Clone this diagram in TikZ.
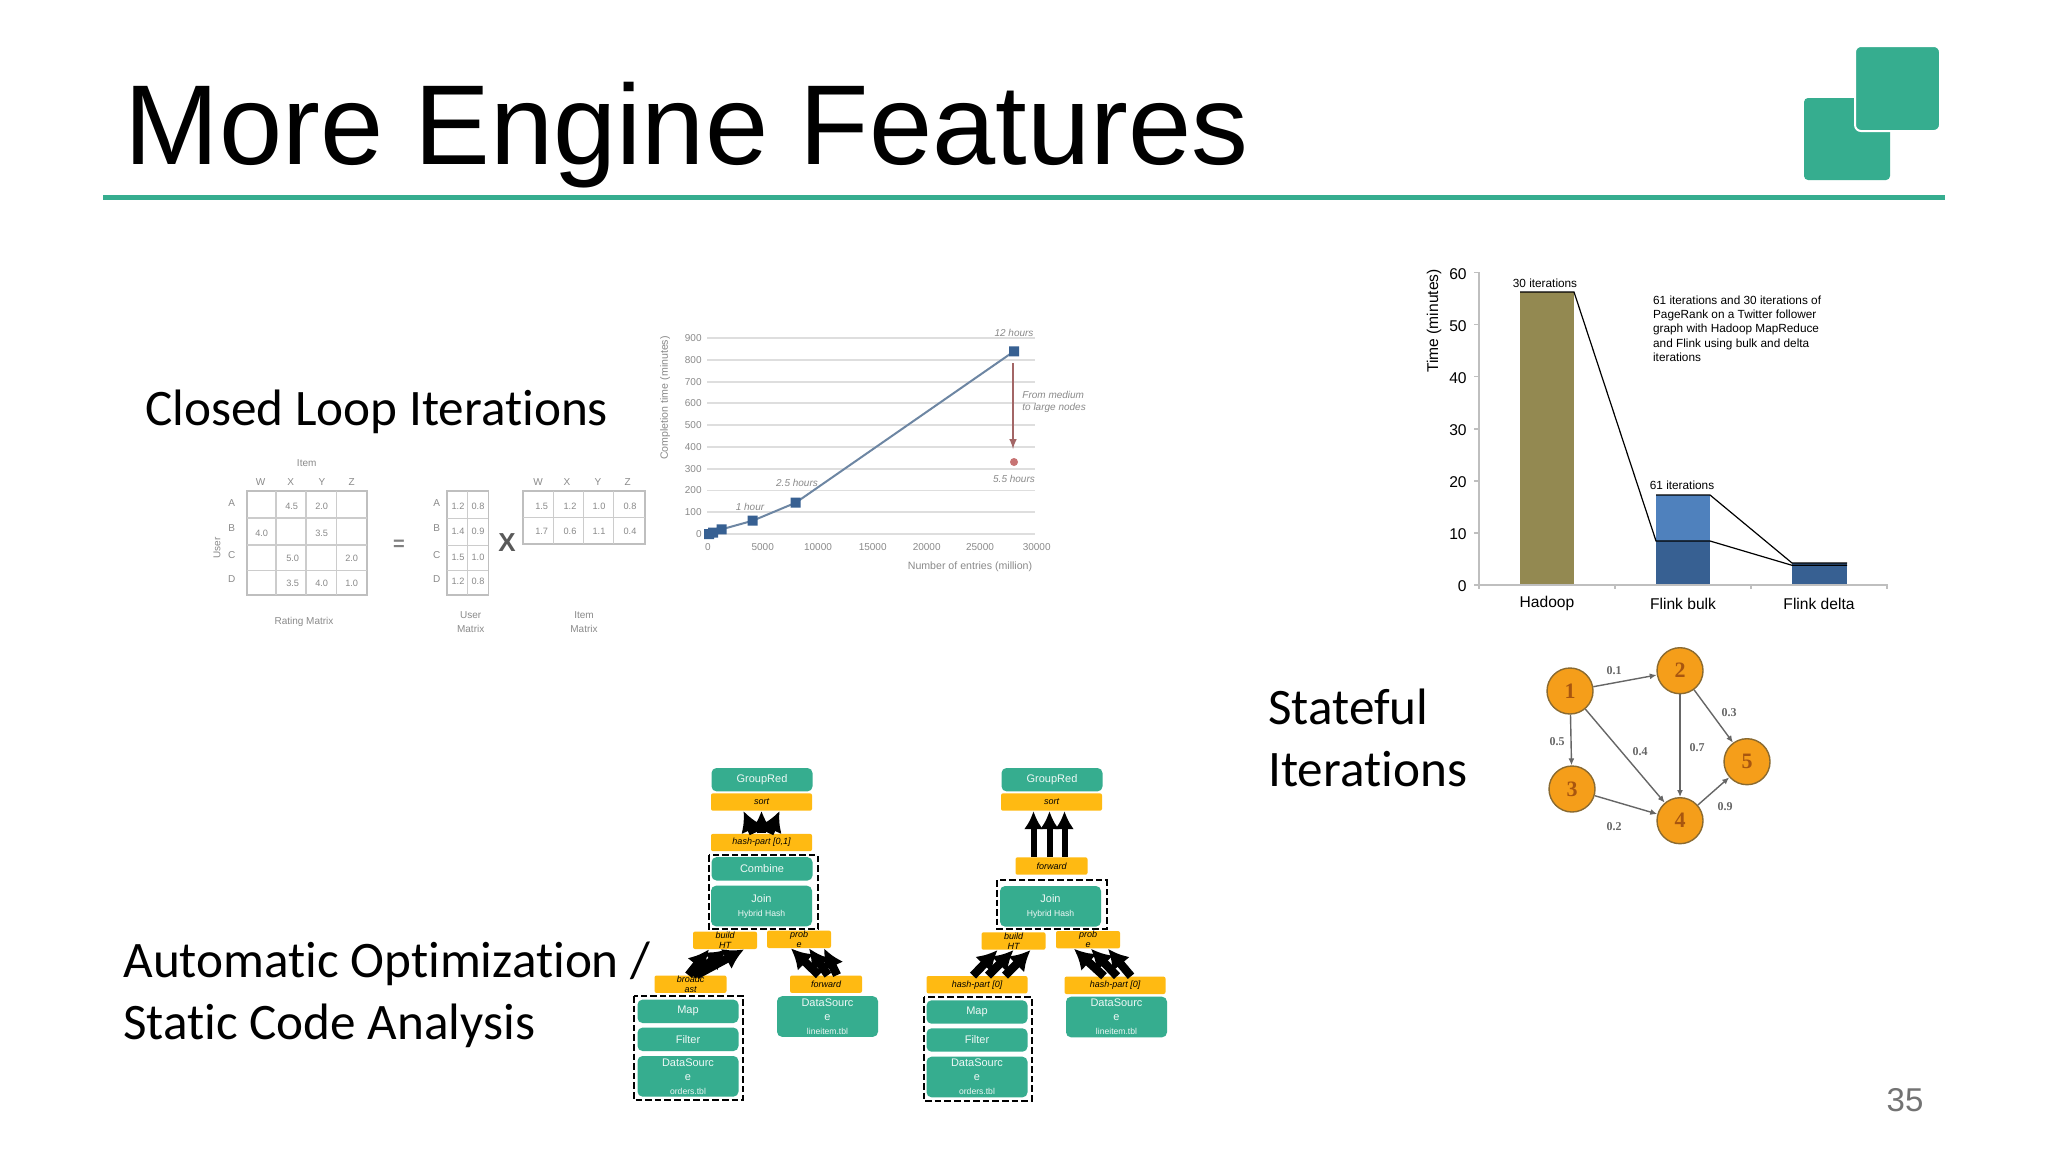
\documentclass[tikz,border=0pt]{standalone}
\usepackage{fontspec}
\setmainfont{Liberation Sans}
\newfontfamily\bodyfont[Ligatures=NoCommon]{Carlito}
\newfontfamily\graphfont{Liberation Serif}
\usetikzlibrary{arrows.meta}
\definecolor{flinkgreen}{HTML}{36AD8F}
\definecolor{shiporange}{HTML}{FFBA12}
\definecolor{olivebar}{HTML}{938951}
\definecolor{lightbar}{HTML}{4F81BD}
\definecolor{darkbar}{HTML}{376092}
\definecolor{vertexfill}{HTML}{F59E1A}
\definecolor{vertexline}{HTML}{8A6A30}
\definecolor{vertextext}{HTML}{A8560F}
\definecolor{faded}{HTML}{8A8A8A}
\tikzset{>=latex}
\tikzset{
  headline/.style = {anchor=base west,inner sep=0pt,font=\fontsize{56.8}{60}\selectfont},
  bodytext/.style = {anchor=base west,inner sep=0pt,font=\bodyfont\fontsize{25.6}{30}\selectfont},
  op/.style = {fill=flinkgreen,text=white!92!flinkgreen,rounded corners=2.5pt,minimum width=50.5pt,
    inner sep=0pt,align=center,font=\fontsize{5.5}{7}\selectfont},
  opsmall/.style = {op,minimum height=11.7pt},
  optall/.style = {op,minimum height=20.3pt},
  ship/.style = {fill=shiporange,text=black,rounded corners=1pt,minimum width=50.5pt,minimum height=8.7pt,
    inner sep=0pt,align=center,font=\itshape\fontsize{4.5}{5}\selectfont},
  shipshort/.style = {ship,minimum width=36pt},
  shipnarrow/.style = {ship,minimum width=32pt},
  flow/.style = {-{Latex[length=9pt,width=9.5pt]},line width=3pt,black},
  flowfat/.style = {-{Latex[length=10pt,width=11.5pt]},line width=4.2pt,black},
  chain/.style = {draw=black,line width=1pt,dash pattern=on 3.3pt off 1.5pt},
  faint/.style = {text=faded,inner sep=0pt,font=\fontsize{5}{6}\selectfont},
  faintit/.style = {faint,font=\itshape\fontsize{5}{6}\selectfont},
  cell/.style = {faint,font=\fontsize{4.6}{6}\selectfont},
  tick/.style = {inner sep=0pt,font=\fontsize{7.8}{9}\selectfont},
  small/.style = {inner sep=0pt,font=\fontsize{5.9}{7.1}\selectfont},
  vertex/.style = {circle,draw=vertexline,fill=vertexfill,line width=0.7pt,minimum size=23pt,inner sep=0pt,
    text=vertextext,font=\graphfont\bfseries\fontsize{11}{12}\selectfont},
  edge/.style = {->,draw=black!60,line width=0.7pt,>={Latex[length=3.5pt,width=3pt]}},
  weight/.style = {inner sep=0pt,text=black!60,font=\graphfont\bfseries\fontsize{6}{7}\selectfont}
}
\newcommand{\subtxt}[1]{{\fontsize{4.3}{5}\selectfont #1}}

\begin{document}
\begin{tikzpicture}[x=0.5pt,y=-0.5pt]
  \useasboundingbox (0,0) rectangle (2048,1152);
  \fill[white] (0,0) rectangle (2048,1152);
  % title
  \node[headline] (title) at (124,164) {More Engine Features};
  \draw[flinkgreen,line width=2.5pt] (103,197) -- (1945,197);
  \fill[flinkgreen,rounded corners=2pt] (1804,98) rectangle (1890,180);
  \filldraw[fill=flinkgreen,draw=white,line width=1pt,rounded corners=3pt] (1855,46) rectangle (1940,131);
  \node[text=black!55,inner sep=0pt,font=\fontsize{16.5}{18}\selectfont] (pageno) at (1905,1100) {35};
  % feature names
  \node[bodytext] (closed) at (145,425) {Closed Loop Iterations};
  \node[bodytext] (stateA) at (1268,724.5) {Stateful};
  \node[bodytext] (stateB) at (1268,786.5) {Iterations};
  \node[bodytext] (autoA) at (123,977.5) {Automatic Optimization /};
  \node[bodytext] (autoB) at (123,1039) {Static Code Analysis};

  % rating matrix
  \draw[black!25,line width=0.8pt] (246.7,491) rectangle (366.7,594.7);
  \draw[black!20,line width=0.6pt] (276,491) -- (276,594.7) (306,491) -- (306,594.7) (336.7,491) -- (336.7,594.7)
    (246.7,518) -- (366.7,518) (246.7,545) -- (366.7,545) (246.7,570.7) -- (366.7,570.7);
  \node[faint] (itemA) at (306.7,462.7) {Item};
  \node[faint] (colW) at (260.7,481.7) {W};
  \node[faint] (colX) at (290.7,481.7) {X};
  \node[faint] (colY) at (322,481.7) {Y};
  \node[faint] (colZ) at (351.7,481.7) {Z};
  \node[faint] (rowA) at (231.7,503) {A};
  \node[faint] (rowB) at (231.7,528) {B};
  \node[faint] (rowC) at (231.7,555) {C};
  \node[faint] (rowD) at (231.7,579) {D};
  \node[faint,rotate=90] (userA) at (217,548) {User};
  \node[cell] (r1) at (291.7,506.7) {4.5};
  \node[cell] (r2) at (321.7,506.7) {2.0};
  \node[cell] (r3) at (261.7,533) {4.0};
  \node[cell] (r4) at (321.7,533) {3.5};
  \node[cell] (r5) at (292.7,558) {5.0};
  \node[cell] (r6) at (351.7,558) {2.0};
  \node[cell] (r7) at (292.7,583) {3.5};
  \node[cell] (r8) at (321.7,583) {4.0};
  \node[cell] (r9) at (351.7,583) {1.0};
  \node[faint] (rating) at (304,621.7) {Rating Matrix};
  \node[text=black!50,inner sep=0pt,font=\bfseries\fontsize{10}{12}\selectfont] (equals) at (399,545) {=};
  % user matrix
  \draw[black!25,line width=0.8pt] (447,491) rectangle (488.3,594.7);
  \draw[black!20,line width=0.5pt] (467.7,491) -- (467.7,594.7) (447,518) -- (488.3,518) (447,545) -- (488.3,545) (447,570.7) -- (488.3,570.7);
  \node[faint] (rowAu) at (436.7,503) {A};
  \node[faint] (rowBu) at (436.7,528) {B};
  \node[faint] (rowCu) at (436.7,555) {C};
  \node[faint] (rowDu) at (436.7,579) {D};
  \node[cell] (u1) at (458,506.7) {1.2};
  \node[cell] (u2) at (478,506.7) {0.8};
  \node[cell] (u3) at (458,531.7) {1.4};
  \node[cell] (u4) at (478,531.7) {0.9};
  \node[cell] (u5) at (458,557.7) {1.5};
  \node[cell] (u6) at (478,557.7) {1.0};
  \node[cell] (u7) at (458,581.7) {1.2};
  \node[cell] (u8) at (478,581.7) {0.8};
  \node[faint,align=center,font=\fontsize{5}{7}\selectfont] (userM) at (470.7,622) {User\\Matrix};
  \node[text=black!65,inner sep=0pt,font=\bfseries\fontsize{13}{16}\selectfont] (times) at (507,543) {X};
  % item matrix
  \draw[black!25,line width=0.8pt] (522.7,491) rectangle (645,544);
  \draw[black!20,line width=0.5pt] (553,491) -- (553,544) (583,491) -- (583,544) (613,491) -- (613,544) (522.7,517) -- (645,517);
  \node[faint] (colWi) at (538,481.7) {W};
  \node[faint] (colXi) at (567,481.7) {X};
  \node[faint] (colYi) at (598,481.7) {Y};
  \node[faint] (colZi) at (627.7,481.7) {Z};
  \node[cell] (i1) at (541.7,506.7) {1.5};
  \node[cell] (i2) at (570,506.7) {1.2};
  \node[cell] (i3) at (599,506.7) {1.0};
  \node[cell] (i4) at (630,506.7) {0.8};
  \node[cell] (i5) at (541.7,531) {1.7};
  \node[cell] (i6) at (570,531) {0.6};
  \node[cell] (i7) at (599,531) {1.1};
  \node[cell] (i8) at (630,531) {0.4};
  \node[faint,align=center,font=\fontsize{5}{7}\selectfont] (itemM) at (584,622) {Item\\Matrix};

  % line chart
  \draw[black!13,line width=0.9pt] (707,338) -- (1035,338) (707,359.8) -- (1035,359.8) (707,381.6) -- (1035,381.6)
    (707,403.3) -- (1035,403.3) (707,425.1) -- (1035,425.1) (707,446.9) -- (1035,446.9) (707,468.7) -- (1035,468.7)
    (707,490.4) -- (1035,490.4) (707,512.2) -- (1035,512.2) (707,534) -- (1035,534);
  \node[faint,anchor=east] (y900) at (702,338) {900};
  \node[faint,anchor=east] (y800) at (702,359.8) {800};
  \node[faint,anchor=east] (y700) at (702,381.6) {700};
  \node[faint,anchor=east] (y600) at (702,403.3) {600};
  \node[faint,anchor=east] (y500) at (702,425.1) {500};
  \node[faint,anchor=east] (y400) at (702,446.9) {400};
  \node[faint,anchor=east] (y300) at (702,468.7) {300};
  \node[faint,anchor=east] (y200) at (702,490.4) {200};
  \node[faint,anchor=east] (y100) at (702,512.2) {100};
  \node[faint,anchor=east] (y000) at (702,534) {0};
  \node[faint] (x00) at (708,547) {0};
  \node[faint] (x05) at (762.7,547) {5000};
  \node[faint] (x10) at (818,547) {10000};
  \node[faint] (x15) at (872.7,547) {15000};
  \node[faint] (x20) at (926.7,547) {20000};
  \node[faint] (x25) at (980,547) {25000};
  \node[faint] (x30) at (1036.7,547) {30000};
  \node[faint,rotate=90,font=\fontsize{5.3}{6}\selectfont] (ylabel) at (665,398) {Completion time (minutes)};
  \node[faint,font=\fontsize{5.3}{6}\selectfont] (xlabel) at (970,567) {Number of entries (million)};
  \draw[darkbar!85!black!70,line width=1pt] (709,534) -- (713,532.7) -- (721.7,529.3) -- (752.7,520.7) -- (795.7,502.7) -- (1014,351.3);
  \fill[darkbar] (704,529) rectangle (714,539) (708,527.7) rectangle (718,537.7) (716.7,524.3) rectangle (726.7,534.3)
    (747.7,515.7) rectangle (757.7,525.7) (790.7,497.7) rectangle (800.7,507.7) (1009,346.3) rectangle (1019,356.3);
  \draw[->,red!40!black!60,line width=0.7pt] (1013,363) -- (1013,449);
  \fill[red!60!black!55] (1014,462) circle (4);
  \node[faintit] (h12) at (1014,333) {12 hours};
  \node[faintit] (h55) at (1014,479) {5.5 hours};
  \node[faintit] (h25) at (797,483) {2.5 hours};
  \node[faintit] (h1) at (750,507) {1 hour};
  \node[faintit,anchor=west,align=left] (nodes) at (1022,402) {From medium\\to large nodes};

  % bar chart
  \fill[olivebar] (1520,292) rectangle (1574,584);
  \fill[lightbar] (1656,495) rectangle (1710,541);
  \fill[darkbar] (1656,541) rectangle (1710,584);
  \fill[darkbar] (1792,562.7) rectangle (1847,584);
  \draw[black!25,line width=0.6pt] (1474,272.7) -- (1479,272.7) -- (1479,585) -- (1887,585) -- (1887,589)
    (1474,324.7) -- (1479,324.7) (1474,376.8) -- (1479,376.8) (1474,428.9) -- (1479,428.9) (1474,481) -- (1479,481) (1474,533) -- (1479,533)
    (1474,585) -- (1479,585) (1479,585) -- (1479,589) (1615,585) -- (1615,589) (1751,585) -- (1751,589);
  \draw[black,line width=0.6pt] (1520,292) -- (1574,292) -- (1656,541) -- (1710,541) -- (1792,565.3) -- (1847,565.3);
  \draw[black,line width=0.6pt] (1656,495) -- (1710,495) -- (1792,563) -- (1847,563);
  \node[tick,anchor=east] (t60) at (1467,274) {60};
  \node[tick,anchor=east] (t50) at (1467,326) {50};
  \node[tick,anchor=east] (t40) at (1467,378) {40};
  \node[tick,anchor=east] (t30) at (1467,430) {30};
  \node[tick,anchor=east] (t20) at (1467,482) {20};
  \node[tick,anchor=east] (t10) at (1467,534) {10};
  \node[tick,anchor=east] (t00) at (1467,586) {0};
  \node[tick,rotate=90] (timelabel) at (1434,321) {Time (minutes)};
  \node[tick] (hadoop) at (1547,603.5) {Hadoop};
  \node[tick] (bulk) at (1683,603.5) {Flink bulk};
  \node[tick] (delta) at (1819,603.5) {Flink delta};
  \node[small] (it30) at (1545,283) {30 iterations};
  \node[small] (it61) at (1682,485) {61 iterations};
  \node[small,anchor=north west,align=left] (caption) at (1652.7,295.5) {61 iterations and 30 iterations of\\PageRank on a Twitter follower\\graph with Hadoop MapReduce\\and Flink using bulk and delta\\iterations};

  % vertices
  \node[vertex] (v1) at (1570,691) {1};
  \node[vertex] (v2) at (1680,670.7) {2};
  \node[vertex] (v3) at (1572,789) {3};
  \node[vertex] (v4) at (1680,820.7) {4};
  \node[vertex] (v5) at (1747,761.7) {5};
  % edges
  \draw[edge] (v1) -- (v2);
  \draw[edge] (v1) -- (v3);
  \draw[edge] (v1) -- (v4);
  \draw[edge] (v2) -- (v4);
  \draw[edge] (v2) -- (v5);
  \draw[edge] (v3) -- (v4);
  \draw[edge] (v4) -- (v5);
  \node[weight] (w12) at (1614,671) {0.1};
  \node[weight] (w13) at (1557,741.7) {0.5};
  \node[weight] (w14) at (1640,752) {0.4};
  \node[weight] (w24) at (1697,748) {0.7};
  \node[weight] (w25) at (1729,712.7) {0.3};
  \node[weight] (w34) at (1614,827) {0.2};
  \node[weight] (w45) at (1725,806.7) {0.9};

  % left plan
  \draw[chain] (709,855.3) rectangle (818,929);
  \draw[chain] (634,996) rectangle (743,1100);
  \node[opsmall] (groupL) at (762,779.7) {GroupRed};
  \node[ship] (sortL) at (761.5,802) {sort};
  \node[ship] (hashL) at (761.5,842.5) {hash-part [0,1]};
  \node[opsmall] (combineL) at (762,868.8) {Combine};
  \node[optall] (joinL) at (761.5,906) {Join\\\subtxt{Hybrid Hash}};
  \node[shipnarrow] (buildL) at (725,940.3) {build\\HT};
  \node[shipnarrow] (probeL) at (799,939.3) {prob\\e};
  \node[shipshort] (castL) at (690.5,984.2) {broadc\\ast};
  \node[shipshort] (fwdL) at (826,984.2) {forward};
  \node[opsmall] (mapL) at (688,1011.3) {Map};
  \node[opsmall] (filterL) at (688,1039.3) {Filter};
  \node[optall] (ordersL) at (688,1076.3) {DataSourc\\e\\\subtxt{orders.tbl}};
  \node[optall] (lineL) at (827.5,1016.5) {DataSourc\\e\\\subtxt{lineitem.tbl}};
  \draw[flowfat] ([xshift=-4pt]hashL.north) -- ([xshift=-9pt]sortL.south);
  \draw[flowfat] (hashL.north) -- (sortL.south);
  \draw[flowfat] ([xshift=4pt]hashL.north) -- ([xshift=9pt]sortL.south);
  \draw[flowfat] ([xshift=-1pt]castL.north) -- ([xshift=-8pt]buildL.south);
  \draw[flowfat] ([xshift=1pt]castL.north) -- ([xshift=1pt]buildL.south);
  \draw[flowfat] ([xshift=3pt]castL.north) -- ([xshift=9.5pt]buildL.south);
  \draw[flowfat] ([xshift=-3.6pt]fwdL.north) -- ([xshift=-4pt]probeL.south);
  \draw[flowfat] ([xshift=1pt]fwdL.north) -- ([xshift=5pt]probeL.south);
  \draw[flowfat] ([xshift=5.5pt]fwdL.north) -- ([xshift=12.5pt]probeL.south);
  % right plan
  \draw[chain] (997,880.3) rectangle (1106.5,929);
  \draw[chain] (923.5,996.7) rectangle (1031.5,1100.7);
  \node[opsmall] (groupR) at (1052,779.7) {GroupRed};
  \node[ship] (sortR) at (1051.5,802) {sort};
  \node[shipshort] (fwdR) at (1051.5,866) {forward};
  \node[optall] (joinR) at (1050.5,906.3) {Join\\\subtxt{Hybrid Hash}};
  \node[shipnarrow] (buildR) at (1013.5,941) {build\\HT};
  \node[shipnarrow] (probeR) at (1088,939.7) {prob\\e};
  \node[ship] (hashA) at (977,984.7) {hash-part [0]};
  \node[ship] (hashB) at (1115,985.3) {hash-part [0]};
  \node[opsmall] (mapR) at (977,1012) {Map};
  \node[opsmall] (filterR) at (977,1040) {Filter};
  \node[optall] (ordersR) at (977,1077) {DataSourc\\e\\\subtxt{orders.tbl}};
  \node[optall] (lineR) at (1116.5,1017) {DataSourc\\e\\\subtxt{lineitem.tbl}};
  \draw[flow] ([xshift=-9pt]fwdR.north) -- ([xshift=-9pt]sortR.south);
  \draw[flow] ([xshift=-1pt]fwdR.north) -- ([xshift=-1pt]sortR.south);
  \draw[flow] ([xshift=6.5pt]fwdR.north) -- ([xshift=6.5pt]sortR.south);
  \draw[flowfat] ([xshift=-2pt]hashA.north) -- ([xshift=-8pt]buildR.south);
  \draw[flowfat] ([xshift=5.5pt]hashA.north) -- (buildR.south);
  \draw[flowfat] ([xshift=14pt]hashA.north) -- ([xshift=8.5pt]buildR.south);
  \draw[flowfat] ([xshift=-5.5pt]hashB.north) -- ([xshift=-7pt]probeR.south);
  \draw[flowfat] ([xshift=1pt]hashB.north) -- ([xshift=1.5pt]probeR.south);
  \draw[flowfat] ([xshift=8pt]hashB.north) -- ([xshift=10pt]probeR.south);
\end{tikzpicture}
\end{document}
